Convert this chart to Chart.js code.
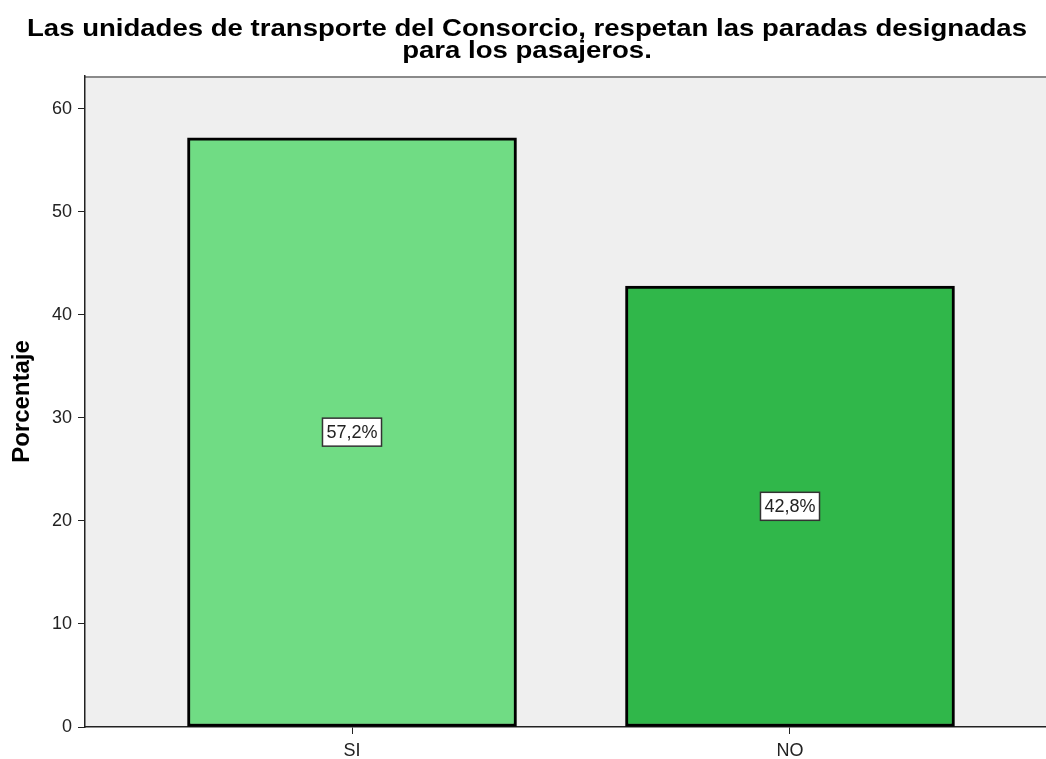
<!DOCTYPE html>
<html>
<head>
<meta charset="utf-8">
<script src="https://cdn.jsdelivr.net/npm/chart.js@4.4.1/dist/chart.umd.min.js"></script>
<style>
  body { margin: 0; background: #fff; }
  #wrap { width: 1046px; height: 759px; }
</style>
</head>
<body>
<div id="wrap"><canvas id="myChart" width="1046" height="759"></canvas></div>
<script>
// chart values
var categories = ['SI', 'NO'];
var percentages = [57.2, 42.8];
var valueLabels = ['57,2%', '42,8%'];
var yTicks = [0, 10, 20, 30, 40, 50, 60];
var titleLines = ['Las unidades de transporte del Consorcio, respetan las paradas designadas', 'para los pasajeros.'];

var barColors = ['#70dc84', '#30b74a'];

// grey plot background + top border line
const plotBg = {
    id: 'plotBg',
    beforeDraw(chart) {
        const { ctx, chartArea: a } = chart;
        ctx.save();
        ctx.fillStyle = '#efefef';
        ctx.fillRect(a.left, a.top, a.right - a.left, a.bottom - a.top);
        ctx.strokeStyle = '#8a8a8a';
        ctx.lineWidth = 2;
        ctx.beginPath();
        ctx.moveTo(a.left, a.top + 1);
        ctx.lineTo(a.right, a.top + 1);
        ctx.stroke();
        ctx.restore();
    }
};

// wide bold title (SPSS style), drawn in the top padding
const wideTitle = {
    id: 'wideTitle',
    afterDraw(chart) {
        const ctx = chart.ctx;
        const cx = chart.width / 2 + 4;
        ctx.save();
        ctx.font = 'bold 24px Arial, "Liberation Sans"';
        ctx.fillStyle = '#000';
        ctx.textAlign = 'center';
        ctx.textBaseline = 'alphabetic';
        const sx = 1000 / ctx.measureText(titleLines[0]).width;
        ctx.translate(cx, 0);
        ctx.scale(sx, 1);
        ctx.fillText(titleLines[0], 0, 36);
        ctx.fillText(titleLines[1], 0, 58);
        ctx.restore();
    }
};

// boxed percentage labels in the middle of each bar
const boxLabels = {
    id: 'boxLabels',
    afterDatasetsDraw(chart) {
        const ctx = chart.ctx;
        const meta = chart.getDatasetMeta(0);
        ctx.save();
        ctx.font = '18px Arial, "Liberation Sans"';
        ctx.textAlign = 'center';
        ctx.textBaseline = 'middle';
        meta.data.forEach(function (bar, i) {
            const cy = (bar.y + bar.base) / 2;
            const txt = valueLabels[i];
            const w = ctx.measureText(txt).width + 8;
            const h = 28;
            ctx.fillStyle = '#fff';
            ctx.fillRect(bar.x - w / 2, cy - h / 2, w, h);
            ctx.strokeStyle = '#333';
            ctx.lineWidth = 1.5;
            ctx.strokeRect(bar.x - w / 2, cy - h / 2, w, h);
            ctx.fillStyle = '#222';
            ctx.fillText(txt, bar.x, cy + 1);
        });
        ctx.restore();
    }
};

const data = {
    datasets: [{
        data: percentages.map((v, i) => ({ x: i, y: v })),
        backgroundColor: barColors,
        borderColor: '#000',
        borderWidth: 3,
        borderSkipped: false,
        barThickness: 329
    }]
};

const config = {
    type: 'bar',
    data: data,
    plugins: [plotBg, boxLabels, wideTitle],
    options: {
        responsive: false,
        animation: false,
        layout: { padding: { top: 76, left: 0, right: 0, bottom: 0 } },
        plugins: {
            legend: { display: false },
            tooltip: { enabled: false },
            title: { display: false }
        },
        scales: {
            x: {
                type: 'linear',
                offset: false,
                min: -0.6096,
                max: 1.5845,
                afterFit(scale) { scale.height = 32; },
                afterBuildTicks(scale) { scale.ticks = categories.map((c, i) => ({ value: i })); },
                ticks: {
                    autoSkip: false,
                    maxRotation: 0,
                    padding: 6,
                    color: '#222',
                    font: { family: 'Arial, "Liberation Sans"', size: 18 },
                    callback: function (v) { return categories[v] || ''; }
                },
                grid: { offset: false, drawOnChartArea: false, drawTicks: true, tickLength: 7, color: '#222' },
                border: { display: true, color: '#222', width: 1.5 }
            },
            y: {
                min: 0,
                max: 63.2,
                afterFit(scale) { scale.width = 85; },
                afterBuildTicks(scale) { scale.ticks = yTicks.map(v => ({ value: v })); },
                ticks: {
                    padding: 6,
                    color: '#222',
                    font: { family: 'Arial, "Liberation Sans"', size: 18 }
                },
                grid: { drawOnChartArea: false, drawTicks: true, tickLength: 7, color: '#222' },
                border: { display: true, color: '#222', width: 1.5 },
                title: {
                    display: true,
                    text: 'Porcentaje',
                    color: '#000',
                    font: { family: 'Arial, "Liberation Sans"', size: 24, weight: 'bold' },
                    padding: { top: 8, bottom: 0 }
                }
            }
        }
    }
};

const myChart = new Chart(document.getElementById('myChart'), config);
</script>
</body>
</html>
